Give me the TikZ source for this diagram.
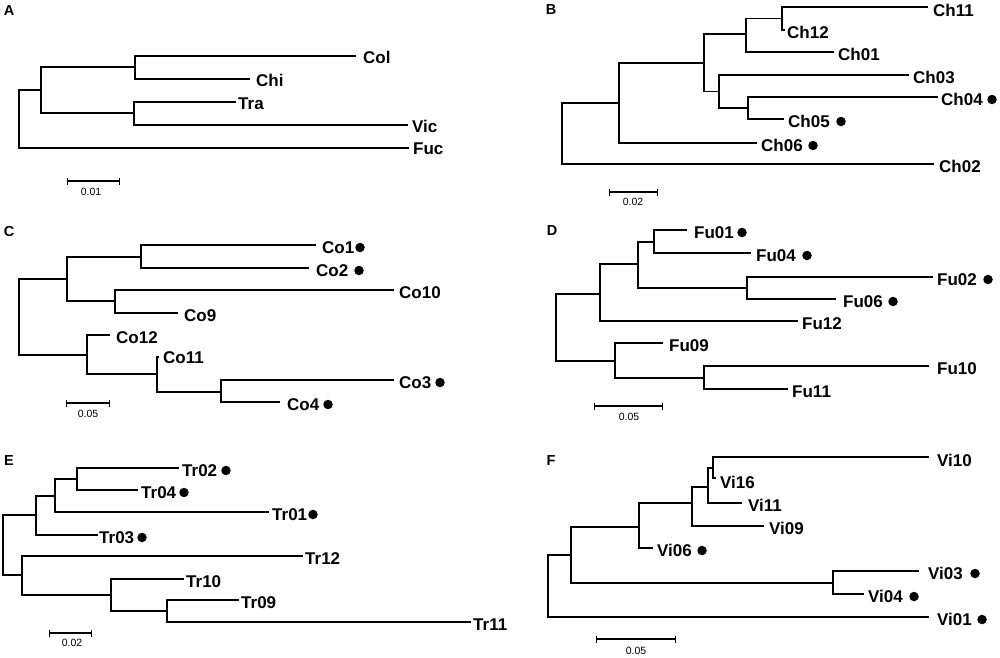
\documentclass[tikz,border=0pt]{standalone}
\usepackage{fontspec}
\setmainfont{Liberation Sans}
\usetikzlibrary{arrows.meta}
\begin{document}
\begin{tikzpicture}[x=1pt,y=-1pt,
  br/.style={line width=1.3pt, line cap=rect, line join=miter},
  lbl/.style={anchor=west, inner sep=0pt, font=\fontsize{17}{19}\selectfont\bfseries},
  pnl/.style={inner sep=0pt, font=\fontsize{14.5}{16}\selectfont\bfseries},
  dotn/.style={circle, fill=black, inner sep=0pt, minimum size=9.5pt},
  sbar/.style={line width=1.3pt, {Bar[width=7pt]}-{Bar[width=7pt]}},
  stxt/.style={inner sep=0pt, font=\fontsize{10.5}{12}\selectfont}]
\useasboundingbox (0,0) rectangle (1000,657);
\fill[white] (0,0) rectangle (1000,657);

% ---------------- Panel A ----------------
\node[pnl] (A-t) at (9,11) {A};
\coordinate (A-r) at (19,118.5);
\coordinate (A-n1) at (41,90);
\coordinate (A-n2) at (135,67);
\coordinate (A-n3) at (134,113);
\coordinate (A-Col) at (355,56);
\coordinate (A-Chi) at (249,79);
\coordinate (A-Tra) at (235,102);
\coordinate (A-Vic) at (407,125);
\coordinate (A-Fuc) at (408,148);
\draw[br] (A-r) |- (A-n1);
\draw[br] (A-r) |- (A-Fuc);
\draw[br] (A-n1) |- (A-n2);
\draw[br] (A-n1) |- (A-n3);
\draw[br] (A-n2) |- (A-Col);
\draw[br] (A-n2) |- (A-Chi);
\draw[br] (A-n3) |- (A-Tra);
\draw[br] (A-n3) |- (A-Vic);
\node[lbl] (A-Col-l) at (363,57.5) {Col};
\node[lbl] (A-Chi-l) at (256,80.5) {Chi};
\node[lbl] (A-Tra-l) at (238,103.5) {Tra};
\node[lbl] (A-Vic-l) at (412,126) {Vic};
\node[lbl] (A-Fuc-l) at (413,149) {Fuc};
\coordinate (A-s1) at (67,181);
\coordinate (A-s2) at (120,181);
\draw[sbar] (A-s1) -- (A-s2);
\node[stxt] (A-st) at (91,192) {0.01};

% ---------------- Panel B ----------------
\node[pnl] (B-t) at (551,10) {B};
\coordinate (B-r) at (562,133.6);
\coordinate (B-n1) at (619,103);
\coordinate (B-n2) at (704,63);
\coordinate (B-n3) at (746,34);
\coordinate (B-n4) at (782,18.5);
\coordinate (B-n5) at (719,91.5);
\coordinate (B-n6) at (748,108);
\coordinate (B-Ch11) at (927,7);
\coordinate (B-Ch12) at (784,30);
\coordinate (B-Ch01) at (833,52);
\coordinate (B-Ch03) at (908,75);
\coordinate (B-Ch04) at (937,97);
\coordinate (B-Ch05) at (783,119);
\coordinate (B-Ch06) at (756,143);
\coordinate (B-Ch02) at (933,164);
\draw[br] (B-r) |- (B-n1);
\draw[br] (B-r) |- (B-Ch02);
\draw[br] (B-n1) |- (B-n2);
\draw[br] (B-n1) |- (B-Ch06);
\draw[br] (B-n2) |- (B-n3);
\draw[br] (B-n2) |- (B-n5);
\draw[br] (B-n3) |- (B-n4);
\draw[br] (B-n3) |- (B-Ch01);
\draw[br] (B-n4) |- (B-Ch11);
\draw[br] (B-n4) |- (B-Ch12);
\draw[br] (B-n5) |- (B-Ch03);
\draw[br] (B-n5) |- (B-n6);
\draw[br] (B-n6) |- (B-Ch04);
\draw[br] (B-n6) |- (B-Ch05);
\node[lbl] (B-Ch11-l) at (933,10) {Ch11};
\node[lbl] (B-Ch12-l) at (787,32) {Ch12};
\node[lbl] (B-Ch01-l) at (838,54.5) {Ch01};
\node[lbl] (B-Ch03-l) at (913,77.5) {Ch03};
\node[lbl] (B-Ch04-l) at (941,99.5) {Ch04};
\node[lbl] (B-Ch05-l) at (788,121.5) {Ch05};
\node[lbl] (B-Ch06-l) at (761,145.5) {Ch06};
\node[lbl] (B-Ch02-l) at (939,166.5) {Ch02};
\node[dotn] (B-Ch04-d) at (992,99.5) {};
\node[dotn] (B-Ch05-d) at (841,121.5) {};
\node[dotn] (B-Ch06-d) at (813,145.5) {};
\coordinate (B-s1) at (609,192);
\coordinate (B-s2) at (658,192);
\draw[sbar] (B-s1) -- (B-s2);
\node[stxt] (B-st) at (633,202) {0.02};

% ---------------- Panel C ----------------
\node[pnl] (C-t) at (9,231) {C};
\coordinate (C-r) at (19,317);
\coordinate (C-n1) at (67,279);
\coordinate (C-n2) at (141,257);
\coordinate (C-n3) at (115,301);
\coordinate (C-n4) at (87,355);
\coordinate (C-n5) at (157,374);
\coordinate (C-n6) at (221,392);
\coordinate (C-Co1) at (315,245);
\coordinate (C-Co2) at (308,268);
\coordinate (C-Co10) at (393,290);
\coordinate (C-Co9) at (177,313);
\coordinate (C-Co12) at (109,335);
\coordinate (C-Co11) at (158,357);
\coordinate (C-Co3) at (393,380);
\coordinate (C-Co4) at (279,402);
\draw[br] (C-r) |- (C-n1);
\draw[br] (C-r) |- (C-n4);
\draw[br] (C-n1) |- (C-n2);
\draw[br] (C-n1) |- (C-n3);
\draw[br] (C-n2) |- (C-Co1);
\draw[br] (C-n2) |- (C-Co2);
\draw[br] (C-n3) |- (C-Co10);
\draw[br] (C-n3) |- (C-Co9);
\draw[br] (C-n4) |- (C-Co12);
\draw[br] (C-n4) |- (C-n5);
\draw[br] (C-n5) |- (C-Co11);
\draw[br] (C-n5) |- (C-n6);
\draw[br] (C-n6) |- (C-Co3);
\draw[br] (C-n6) |- (C-Co4);
\node[lbl] (C-Co1-l) at (322,247.5) {Co1};
\node[lbl] (C-Co2-l) at (316,270.5) {Co2};
\node[lbl] (C-Co10-l) at (399,292.5) {Co10};
\node[lbl] (C-Co9-l) at (184,315.5) {Co9};
\node[lbl] (C-Co12-l) at (116,337.5) {Co12};
\node[lbl] (C-Co11-l) at (163,358) {Co11};
\node[lbl] (C-Co3-l) at (399,382.5) {Co3};
\node[lbl] (C-Co4-l) at (287,404.5) {Co4};
\node[dotn] (C-Co1-d) at (360,247.5) {};
\node[dotn] (C-Co2-d) at (359,270.5) {};
\node[dotn] (C-Co3-d) at (440,382.5) {};
\node[dotn] (C-Co4-d) at (328,404.5) {};
\coordinate (C-s1) at (66,403);
\coordinate (C-s2) at (110,403);
\draw[sbar] (C-s1) -- (C-s2);
\node[stxt] (C-st) at (88,414) {0.05};

% ---------------- Panel D ----------------
\node[pnl] (D-t) at (552,231) {D};
\coordinate (D-r) at (556,327.5);
\coordinate (D-n1) at (600,294);
\coordinate (D-n2) at (638,264);
\coordinate (D-n3) at (654,242);
\coordinate (D-n4) at (747,288);
\coordinate (D-n5) at (615,361);
\coordinate (D-n6) at (704,378);
\coordinate (D-Fu01) at (686,230);
\coordinate (D-Fu04) at (750,253);
\coordinate (D-Fu02) at (932,277);
\coordinate (D-Fu06) at (835,299);
\coordinate (D-Fu12) at (797,321);
\coordinate (D-Fu09) at (662,343);
\coordinate (D-Fu10) at (928,366);
\coordinate (D-Fu11) at (787,389);
\draw[br] (D-r) |- (D-n1);
\draw[br] (D-r) |- (D-n5);
\draw[br] (D-n1) |- (D-n2);
\draw[br] (D-n1) |- (D-Fu12);
\draw[br] (D-n2) |- (D-n3);
\draw[br] (D-n2) |- (D-n4);
\draw[br] (D-n3) |- (D-Fu01);
\draw[br] (D-n3) |- (D-Fu04);
\draw[br] (D-n4) |- (D-Fu02);
\draw[br] (D-n4) |- (D-Fu06);
\draw[br] (D-n5) |- (D-Fu09);
\draw[br] (D-n5) |- (D-n6);
\draw[br] (D-n6) |- (D-Fu10);
\draw[br] (D-n6) |- (D-Fu11);
\node[lbl] (D-Fu01-l) at (694,232.5) {Fu01};
\node[lbl] (D-Fu04-l) at (756,255.5) {Fu04};
\node[lbl] (D-Fu02-l) at (937,279.5) {Fu02};
\node[lbl] (D-Fu06-l) at (843,301.5) {Fu06};
\node[lbl] (D-Fu12-l) at (802,323.5) {Fu12};
\node[lbl] (D-Fu09-l) at (669,345.5) {Fu09};
\node[lbl] (D-Fu10-l) at (937,368.5) {Fu10};
\node[lbl] (D-Fu11-l) at (792,391.5) {Fu11};
\node[dotn] (D-Fu01-d) at (742,232.5) {};
\node[dotn] (D-Fu04-d) at (807,255.5) {};
\node[dotn] (D-Fu02-d) at (988,279.5) {};
\node[dotn] (D-Fu06-d) at (893,301.5) {};
\coordinate (D-s1) at (594,406);
\coordinate (D-s2) at (663,406);
\draw[sbar] (D-s1) -- (D-s2);
\node[stxt] (D-st) at (629,417) {0.05};

% ---------------- Panel E ----------------
\node[pnl] (E-t) at (9,460) {E};
\coordinate (E-r) at (3,545);
\coordinate (E-n1) at (36,515);
\coordinate (E-n2) at (55,496);
\coordinate (E-n3) at (77,479);
\coordinate (E-n4) at (22,575);
\coordinate (E-n5) at (111,595);
\coordinate (E-n6) at (167,611);
\coordinate (E-Tr02) at (178,468);
\coordinate (E-Tr04) at (137,490);
\coordinate (E-Tr01) at (268,512);
\coordinate (E-Tr03) at (97,535);
\coordinate (E-Tr12) at (302,556);
\coordinate (E-Tr10) at (183,579);
\coordinate (E-Tr09) at (238,600);
\coordinate (E-Tr11) at (470,622);
\draw[br] (E-r) |- (E-n1);
\draw[br] (E-r) |- (E-n4);
\draw[br] (E-n1) |- (E-n2);
\draw[br] (E-n1) |- (E-Tr03);
\draw[br] (E-n2) |- (E-n3);
\draw[br] (E-n2) |- (E-Tr01);
\draw[br] (E-n3) |- (E-Tr02);
\draw[br] (E-n3) |- (E-Tr04);
\draw[br] (E-n4) |- (E-Tr12);
\draw[br] (E-n4) |- (E-n5);
\draw[br] (E-n5) |- (E-Tr10);
\draw[br] (E-n5) |- (E-n6);
\draw[br] (E-n6) |- (E-Tr09);
\draw[br] (E-n6) |- (E-Tr11);
\node[lbl] (E-Tr02-l) at (182,470.5) {Tr02};
\node[lbl] (E-Tr04-l) at (141,492.5) {Tr04};
\node[lbl] (E-Tr01-l) at (272,514.5) {Tr01};
\node[lbl] (E-Tr03-l) at (99,537.5) {Tr03};
\node[lbl] (E-Tr12-l) at (305,558.5) {Tr12};
\node[lbl] (E-Tr10-l) at (186,581.5) {Tr10};
\node[lbl] (E-Tr09-l) at (241,602.5) {Tr09};
\node[lbl] (E-Tr11-l) at (473,624.5) {Tr11};
\node[dotn] (E-Tr02-d) at (226,470.5) {};
\node[dotn] (E-Tr04-d) at (184,492.5) {};
\node[dotn] (E-Tr01-d) at (313,514.5) {};
\node[dotn] (E-Tr03-d) at (142,537.5) {};
\coordinate (E-s1) at (49,633);
\coordinate (E-s2) at (92,633);
\draw[sbar] (E-s1) -- (E-s2);
\node[stxt] (E-st) at (72,643) {0.02};

% ---------------- Panel F ----------------
\node[pnl] (F-t) at (551,460) {F};
\coordinate (F-r) at (548,586);
\coordinate (F-n1) at (571,555);
\coordinate (F-n2) at (639,527);
\coordinate (F-n3) at (692,503);
\coordinate (F-n4) at (708,487);
\coordinate (F-n5) at (713,468);
\coordinate (F-n6) at (833,583);
\coordinate (F-Vi10) at (928,457);
\coordinate (F-Vi16) at (715,478);
\coordinate (F-Vi11) at (741,503);
\coordinate (F-Vi09) at (763,526);
\coordinate (F-Vi06) at (652,548);
\coordinate (F-Vi03) at (918,571);
\coordinate (F-Vi04) at (863,594);
\coordinate (F-Vi01) at (928,617);
\draw[br] (F-r) |- (F-n1);
\draw[br] (F-r) |- (F-Vi01);
\draw[br] (F-n1) |- (F-n2);
\draw[br] (F-n1) |- (F-n6);
\draw[br] (F-n2) |- (F-n3);
\draw[br] (F-n2) |- (F-Vi06);
\draw[br] (F-n3) |- (F-n4);
\draw[br] (F-n3) |- (F-Vi09);
\draw[br] (F-n4) |- (F-n5);
\draw[br] (F-n4) |- (F-Vi11);
\draw[br] (F-n5) |- (F-Vi10);
\draw[br] (F-n5) |- (F-Vi16);
\draw[br] (F-n6) |- (F-Vi03);
\draw[br] (F-n6) |- (F-Vi04);
\node[lbl] (F-Vi10-l) at (937,460) {Vi10};
\node[lbl] (F-Vi16-l) at (720,482) {Vi16};
\node[lbl] (F-Vi11-l) at (748,505.5) {Vi11};
\node[lbl] (F-Vi09-l) at (769,528.5) {Vi09};
\node[lbl] (F-Vi06-l) at (657,550.5) {Vi06};
\node[lbl] (F-Vi03-l) at (928,573.5) {Vi03};
\node[lbl] (F-Vi04-l) at (868,596.5) {Vi04};
\node[lbl] (F-Vi01-l) at (937,619.5) {Vi01};
\node[dotn] (F-Vi06-d) at (702,550.5) {};
\node[dotn] (F-Vi03-d) at (975,573.5) {};
\node[dotn] (F-Vi04-d) at (914,596.5) {};
\node[dotn] (F-Vi01-d) at (982,619.5) {};
\coordinate (F-s1) at (596,639);
\coordinate (F-s2) at (676,639);
\draw[sbar] (F-s1) -- (F-s2);
\node[stxt] (F-st) at (636,651) {0.05};
\end{tikzpicture}
\end{document}
